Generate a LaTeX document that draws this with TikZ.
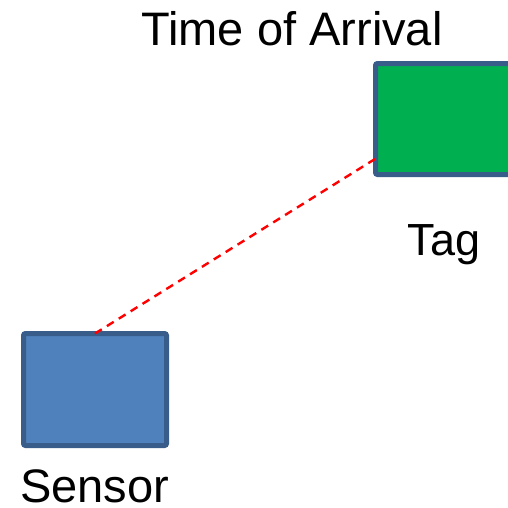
\documentclass[tikz,border=0pt]{standalone}
\usepackage{fontspec}
\setmainfont{Liberation Sans}
\begin{document}
\begin{tikzpicture}[x=1pt,y=-1pt,
  boxstyle/.style={draw=boxborder,line width=5pt,rounded corners=2pt,inner sep=0pt,outer sep=0pt},
  lbl/.style={anchor=base,inner sep=0pt,text depth=0pt,font=\fontsize{47}{56}\selectfont},
  link/.style={draw=red,line width=2.4pt,dash pattern=on 8pt off 6pt}]
\definecolor{boxborder}{HTML}{385D8A}
\definecolor{tagfill}{HTML}{00B050}
\definecolor{sensorfill}{HTML}{4F81BD}
\useasboundingbox (0,0) rectangle (508,507);
\clip (0,0) rectangle (508,507);
\node[boxstyle,fill=tagfill,minimum width=144.5pt,minimum height=111pt] (tag) at (447.75,119) {};
\node[boxstyle,fill=sensorfill,minimum width=143pt,minimum height=112pt] (sensor) at (95,389.5) {};
\coordinate (tagside) at (375,159);
\draw[link] (sensor.north) -- (tagside);
\node[lbl] (title) at (292,45) {Time of Arrival};
\node[lbl,font=\fontsize{45}{54}\selectfont] (taglabel) at (444,255) {Tag};
\node[lbl] (sensorlabel) at (94.5,502) {Sensor};
\end{tikzpicture}
\end{document}
